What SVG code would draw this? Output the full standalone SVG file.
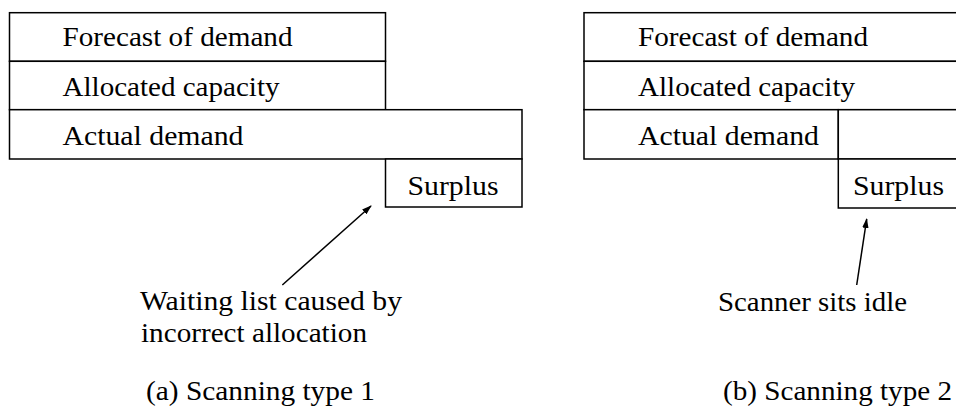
<svg xmlns="http://www.w3.org/2000/svg" width="956" height="407" viewBox="0 0 956 407">
  <style>
    .box { fill: #ffffff; stroke: #000000; stroke-width: 1.5; }
    .lbl { font-family: "Liberation Serif", "Times New Roman", serif; font-size: 27px; fill: #000000; }
    .conn { stroke: #000000; stroke-width: 1.5; fill: none; marker-end: url(#head); }
  </style>
  <defs>
    <marker id="head" markerUnits="userSpaceOnUse" markerWidth="10" markerHeight="8" viewBox="0 0 10 8" refX="9" refY="4" orient="auto">
      <path d="M0,0.8 L10,4 L0,7.2 Z" fill="#000000"/>
    </marker>
  </defs>
  <rect width="956" height="407" fill="#ffffff"/>

  <!-- (a) Scanning type 1 -->
  <g id="a-forecast">
    <rect class="box" x="9.5" y="12.7" width="376" height="48.6"/>
    <text class="lbl" x="62.5" y="46" textLength="230" lengthAdjust="spacingAndGlyphs">Forecast of demand</text>
  </g>
  <g id="a-allocated">
    <rect class="box" x="9.5" y="61.3" width="376" height="48.4"/>
    <text class="lbl" x="62.5" y="96" textLength="217" lengthAdjust="spacingAndGlyphs">Allocated capacity</text>
  </g>
  <g id="a-actual">
    <rect class="box" x="9.5" y="109.7" width="512.5" height="49.3"/>
    <text class="lbl" x="62.5" y="145" textLength="181" lengthAdjust="spacingAndGlyphs">Actual demand</text>
  </g>
  <g id="a-surplus">
    <rect class="box" x="385.5" y="159" width="136.5" height="48"/>
    <text class="lbl" x="407.5" y="195" textLength="91" lengthAdjust="spacingAndGlyphs">Surplus</text>
  </g>
  <g id="a-note">
    <text class="lbl" x="140" y="310" textLength="262" lengthAdjust="spacingAndGlyphs">Waiting list caused by</text>
    <text class="lbl" x="141" y="342" textLength="226" lengthAdjust="spacingAndGlyphs">incorrect allocation</text>
  </g>
  <g id="a-caption">
    <text class="lbl" x="146" y="400" textLength="229" lengthAdjust="spacingAndGlyphs">(a)  Scanning type 1</text>
  </g>

  <!-- (b) Scanning type 2 -->
  <g id="b-forecast">
    <rect class="box" x="584" y="12.7" width="400" height="48.6"/>
    <text class="lbl" x="638" y="46" textLength="230" lengthAdjust="spacingAndGlyphs">Forecast of demand</text>
  </g>
  <g id="b-allocated">
    <rect class="box" x="584" y="61.3" width="400" height="48.4"/>
    <text class="lbl" x="638" y="96" textLength="217" lengthAdjust="spacingAndGlyphs">Allocated capacity</text>
  </g>
  <g id="b-actual">
    <rect class="box" x="584" y="109.7" width="254.3" height="49.3"/>
    <text class="lbl" x="638" y="145" textLength="181" lengthAdjust="spacingAndGlyphs">Actual demand</text>
  </g>
  <g id="b-gap">
    <rect class="box" x="838.3" y="109.7" width="146" height="49.3"/>
  </g>
  <g id="b-surplus">
    <rect class="box" x="838.3" y="159" width="146" height="49"/>
    <text class="lbl" x="853" y="195" textLength="91" lengthAdjust="spacingAndGlyphs">Surplus</text>
  </g>
  <g id="b-note">
    <text class="lbl" x="718" y="311" textLength="189" lengthAdjust="spacingAndGlyphs">Scanner sits idle</text>
  </g>
  <g id="b-caption">
    <text class="lbl" x="723" y="400" textLength="229" lengthAdjust="spacingAndGlyphs">(b)  Scanning type 2</text>
  </g>

  <!-- pointers from the notes to the surplus boxes -->
  <g id="connectors">
    <line class="conn" x1="282.3" y1="285" x2="371" y2="206"/>
    <line class="conn" x1="856.7" y1="285" x2="866.7" y2="219"/>
  </g>
</svg>
